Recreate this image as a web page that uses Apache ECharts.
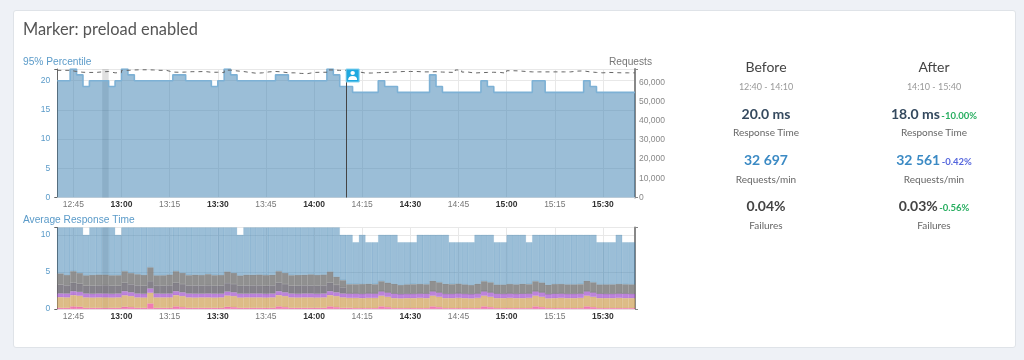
<!DOCTYPE html>
<html>
<head>
<meta charset="utf-8">
<script src="https://cdn.jsdelivr.net/npm/echarts@6/dist/echarts.min.js"></script>
<style>
	html, body { margin: 0; padding: 0; width: 1024px; height: 360px; overflow: hidden; background: #eef1f6; }
	body { position: relative; font-family: Lato, sans-serif; }
	.card { position: absolute; left: 13px; top: 10px; width: 1001px; height: 336px; background: #fff; border: 1px solid #dfe3e8; border-radius: 3px; }
	#chart { position: absolute; left: 0; top: 0; width: 1024px; height: 360px; }
	.head { position: absolute; left: 23px; top: 17px; font-size: 16.4px; line-height: 24px; color: #555; }
	.t { position: absolute; width: 168px; margin-left: -84px; text-align: center; white-space: nowrap; transform: translateY(-50%); }
	.big { font-size: 14px; color: #444; }
	.time { font-size: 9px; color: #999; }
	.val { font-size: 14px; font-weight: 700; color: #34495e; }
	.lab { font-size: 10px; color: #666; }
	.delta { font-size: 9.5px; font-weight: 700; }
</style>
</head>
<body>
<div class="card"></div>
<div id="chart"></div>
<div class="head">Marker: preload enabled</div>

<div class="t big" style="left:766px;top:66px">Before</div>
<div class="t time" style="left:766px;top:86px">12:40 - 14:10</div>
<div class="t val" style="left:766px;top:113px">20.0 ms</div>
<div class="t lab" style="left:766px;top:132px">Response Time</div>
<div class="t val" style="left:766px;top:159px;color:#3b8ac4">32 697</div>
<div class="t lab" style="left:766px;top:179px">Requests/min</div>
<div class="t val" style="left:766px;top:205px;color:#444">0.04%</div>
<div class="t lab" style="left:766px;top:225px">Failures</div>

<div class="t big" style="left:934px;top:66px">After</div>
<div class="t time" style="left:934px;top:86px">14:10 - 15:40</div>
<div class="t val" style="left:934px;top:113px">18.0 ms <span class="delta" style="color:#27ae60;margin-left:-2px">-10.00%</span></div>
<div class="t lab" style="left:934px;top:132px">Response Time</div>
<div class="t val" style="left:934px;top:159px;color:#3b8ac4">32 561 <span class="delta" style="color:#5566dd;margin-left:-2px">-0.42%</span></div>
<div class="t lab" style="left:934px;top:179px">Requests/min</div>
<div class="t val" style="left:934px;top:205px;color:#444">0.03% <span class="delta" style="color:#27ae60;margin-left:-2px">-0.56%</span></div>
<div class="t lab" style="left:934px;top:225px">Failures</div>

<script>
	// x axis is minutes after 12:00, one bin = 2 minutes
	const xStart = 40
	const xEnd = 220
	const binSize = 2
	const tickMinutes = [45, 60, 75, 90, 105, 120, 135, 150, 165, 180, 195, 210]
	const tickLabels = ['12:45', '13:00', '13:15', '13:30', '13:45', '14:00', '14:15', '14:30', '14:45', '15:00', '15:15', '15:30']
	const boldLabels = ['13:00', '13:30', '14:00', '14:30', '15:00', '15:30']
	const markerMinute = 130
	const bandMinutes = [54, 56]
	const percentileTicks = [0, 5, 10, 15, 20]
	const requestTicks = [0, 10000, 20000, 30000, 40000, 50000, 60000]
	const responseTicks = [0, 5, 10]

	// 95% percentile
	const percentile = [
		20, 20, 22, 21, 19, 20, 20, 20, 19, 20,
		22, 21, 20, 20, 20, 20, 20, 20, 21, 21,
		20, 20, 20, 20, 19, 20, 22, 21, 20, 20,
		20, 20, 20, 20, 21, 21, 20, 20, 20, 20,
		20, 20, 22, 21, 19, 19, 18, 18, 18, 18,
		20, 19, 19, 18, 18, 18, 18, 18, 21, 19,
		18, 18, 18, 18, 18, 18, 20, 19, 18, 18,
		18, 18, 18, 18, 20, 20, 18, 18, 18, 18,
		18, 18, 20, 19, 18, 18, 18, 18, 18, 18
	]
	const requests = [
		66300, 66300, 65700, 65300, 65200, 65200, 65500, 65700, 65000, 65100,
		66300, 66500, 66600, 66600, 66500, 66300, 66300, 65400, 65300, 65400,
		65600, 65600, 65700, 65300, 65300, 65100, 66400, 66000, 65700, 65200,
		64800, 65000, 65500, 65700, 65500, 65000, 65000, 64700, 64600, 65200,
		65300, 65300, 66500, 66300, 66300, 66000, 65500, 64900, 64900, 65100,
		65200, 65300, 65500, 65700, 65700, 65700, 65500, 65500, 65600, 65400,
		65300, 65200, 66500, 65400, 64900, 65100, 65200, 65300, 65200, 64800,
		66100, 66000, 65700, 65500, 65500, 65500, 65500, 65500, 65500, 65500,
		65900, 66000, 65500, 65200, 65000, 65200, 65100, 65000, 65000, 65000
	]

	// average response time, layers from the bottom up
	const pink = [
		.15, .15, .35, .3, .15, .15, .15, .15, .15, .15,
		.3, .25, .15, .15, .75, .15, .15, .15, .35, .25,
		.15, .15, .15, .15, .15, .15, .3, .25, .15, .15,
		.15, .15, .15, .15, .35, .25, .15, .15, .15, .15,
		.15, .15, .35, .25, .15, .15, .12, .12, .12, .12,
		.35, .25, .12, .12, .12, .12, .12, .12, .35, .25,
		.12, .12, .12, .12, .12, .12, .35, .25, .12, .12,
		.12, .12, .12, .12, .35, .25, .12, .12, .12, .12,
		.12, .12, .35, .25, .12, .12, .12, .12, .12, .12
	]
	const tan = [
		1.45, 1.42, 1.52, 1.5, 1.42, 1.4, 1.42, 1.42, 1.4, 1.42,
		1.55, 1.5, 1.42, 1.4, 1.45, 1.42, 1.42, 1.42, 1.52, 1.5,
		1.42, 1.4, 1.42, 1.42, 1.4, 1.42, 1.52, 1.5, 1.4, 1.42,
		1.42, 1.42, 1.4, 1.42, 1.52, 1.5, 1.42, 1.4, 1.42, 1.42,
		1.4, 1.42, 1.52, 1.5, 1.42, 1.35, 1.38, 1.35, 1.38, 1.38,
		1.45, 1.4, 1.35, 1.32, 1.35, 1.35, 1.38, 1.35, 1.45, 1.4,
		1.35, 1.35, 1.38, 1.35, 1.32, 1.38, 1.45, 1.4, 1.35, 1.35,
		1.38, 1.35, 1.35, 1.38, 1.45, 1.4, 1.32, 1.35, 1.38, 1.35,
		1.35, 1.38, 1.45, 1.4, 1.35, 1.35, 1.35, 1.38, 1.35, 1.35
	]
	const purple = [
		.5, .52, .53, .5, .52, .5, .52, .52, .5, .52,
		.55, .5, .52, .5, .57, .52, .5, .52, .53, .5,
		.52, .52, .5, .52, .52, .5, .53, .5, .52, .5,
		.52, .52, .5, .52, .53, .5, .52, .5, .52, .52,
		.5, .52, .53, .5, .52, .6, .6, .6, .62, .6,
		.6, .6, .62, .6, .6, .6, .6, .62, .6, .6,
		.6, .6, .62, .6, .6, .6, .6, .6, .62, .6,
		.6, .6, .62, .6, .6, .6, .6, .62, .6, .6,
		.6, .6, .6, .6, .62, .6, .6, .6, .62, .6
	]
	const darkGray = [
		1.2, 1.1, 1.15, 1.1, 1.05, 1.1, 1.1, 1.12, 1.1, 1.05,
		1.15, 1.1, 1.1, 1.1, 1.0, 1.1, 1.08, 1.1, 1.15, 1.12,
		1.08, 1.1, 1.1, 1.12, 1.05, 1.1, 1.15, 1.12, 1.05, 1.1,
		1.1, 1.1, 1.08, 1.1, 1.15, 1.12, 1.05, 1.1, 1.1, 1.08,
		1.1, 1.1, 1.15, 1.0, 0.85, 0, 0, 0, 0, 0,
		0, 0, 0, 0, 0, 0, 0, 0, 0, 0,
		0, 0, 0, 0, 0, 0, 0, 0, 0, 0,
		0, 0, 0, 0, 0, 0, 0, 0, 0, 0,
		0, 0, 0, 0, 0, 0, 0, 0, 0, 0
	]
	const gray = [
		1.5, 1.4, 1.55, 1.45, 1.4, 1.45, 1.45, 1.42, 1.4, 1.42,
		1.55, 1.5, 1.5, 1.45, 1.85, 1.35, 1.4, 1.45, 1.55, 1.5,
		1.4, 1.45, 1.42, 1.5, 1.45, 1.42, 1.55, 1.5, 1.4, 1.45,
		1.42, 1.45, 1.45, 1.42, 1.55, 1.5, 1.42, 1.45, 1.42, 1.5,
		1.45, 1.45, 1.5, 1.1, .95, 1.25, 1.25, 1.3, 1.28, 1.25,
		1.35, 1.3, 1.3, 1.2, 1.25, 1.28, 1.28, 1.25, 1.4, 1.35,
		1.32, 1.28, 1.3, 1.25, 1.2, 1.3, 1.35, 1.35, 1.2, 1.22,
		1.28, 1.25, 1.3, 1.25, 1.35, 1.32, 1.22, 1.28, 1.28, 1.25,
		1.25, 1.25, 1.4, 1.35, 1.22, 1.25, 1.25, 1.28, 1.25, 1.25
	]
	const responseTop = [
		11, 11, 11, 11, 10, 11, 11, 11, 11, 10,
		11, 11, 11, 11, 11, 11, 11, 11, 11, 11,
		11, 11, 11, 11, 11, 11, 11, 11, 10, 11,
		11, 11, 11, 11, 11, 11, 11, 11, 11, 11,
		11, 11, 11, 11, 10, 10, 9, 10, 9, 9,
		10, 10, 10, 9, 9, 9, 10, 10, 10, 10,
		10, 9, 9, 9, 9, 10, 10, 10, 9, 9,
		10, 10, 10, 9, 10, 10, 10, 10, 10, 10,
		10, 10, 10, 10, 9, 9, 9, 10, 9, 9
	]

	const layers = [pink, tan, purple, darkGray, gray]
	const blue = responseTop.map((top, i) => top - layers.reduce((sum, l) => sum + l[i], 0))

	// bin starts for the step lines, the last value is held to the right edge
	const stepData = arr => arr.map((v, i) => [xStart + i * binSize, v]).concat([[xEnd, arr[arr.length - 1]]])
	// hidden category axis under the lower chart, stack does not work on a value x axis
	const binNames = responseTop.map((v, i) => String(xStart + i * binSize))

	const fontFamily = '"Liberation Sans", sans-serif'
	const blueText = '#5b9bc9'
	const areaColor = 'rgba(55,125,175,0.5)'

	function xAxis(gridIndex) {
		return {
			type: 'value',
			gridIndex,
			min: xStart,
			max: xEnd,
			axisLine: { lineStyle: { color: '#e6e6e6' } },
			axisTick: { show: false, customValues: tickMinutes },
			splitLine: { show: true, lineStyle: { color: '#e8e8e8' } },
			axisLabel: {
				customValues: tickMinutes,
				hideOverlap: false,
				fontFamily,
				fontSize: 8.5,
				color: '#777',
				margin: 3,
				formatter: v => {
					const label = tickLabels[tickMinutes.indexOf(v)]
					return boldLabels.includes(label) ? '{b|' + label + '}' : label
				},
				rich: { b: { fontFamily, fontSize: 8.5, fontWeight: 'bold', color: '#333' } }
			}
		}
	}

	// only the end ticks of the axis line, like a bracket
	function bracketAxis(gridIndex, position, max, color, width) {
		return {
			type: 'value',
			gridIndex,
			position,
			min: 0,
			max,
			axisLine: { show: true, lineStyle: { color, width } },
			axisTick: { show: true, customValues: [0, max], length: 3, lineStyle: { color, width: 1 } },
			axisLabel: { show: false },
			splitLine: { show: false }
		}
	}

	const band = {
		silent: true,
		itemStyle: { color: 'rgba(100,100,100,0.2)' },
		data: [[{ xAxis: bandMinutes[0] }, { xAxis: bandMinutes[1] }]]
	}

	const responseColors = [
		'rgba(236,90,160,0.8)',
		'rgba(210,165,95,0.75)',
		'rgba(165,90,205,0.75)',
		'rgba(112,108,118,0.85)',
		'rgba(125,125,125,0.85)',
		areaColor
	]

	const responseSeries = layers.concat([blue]).map((l, i) => ({
		type: 'bar',
		xAxisIndex: 2,
		yAxisIndex: 3,
		stack: 'response',
		barCategoryGap: 0,
		data: l,
		// thin border closes most of the seam between bins
		itemStyle: { color: responseColors[i], borderColor: responseColors[i], borderWidth: 0.3 }
	}))
	// empty, only carries the grey band of the lower chart on the minute axis
	responseSeries.push({
		type: 'line',
		xAxisIndex: 1,
		yAxisIndex: 3,
		data: [],
		markArea: band
	})

	const options = {
		animation: false,
		title: [
			{ text: '95% Percentile', left: 18, top: 52, textStyle: { fontFamily, fontSize: 10.2, fontWeight: 'normal', color: blueText } },
			{ text: 'Requests', right: 367, top: 52, textStyle: { fontFamily, fontSize: 10.2, fontWeight: 'normal', color: '#777' } },
			{ text: 'Average Response Time', left: 18, top: 210, textStyle: { fontFamily, fontSize: 10.2, fontWeight: 'normal', color: blueText } }
		],
		grid: [
			{ left: 57.3, right: 389, top: 69, height: 128.5 },
			{ left: 57.3, right: 389, top: 227.5, height: 81.5 }
		],
		xAxis: [
			xAxis(0),
			xAxis(1),
			{ type: 'category', gridIndex: 1, data: binNames, show: false }
		],
		yAxis: [
			{
				type: 'value',
				gridIndex: 0,
				min: 0,
				max: 22,
				interval: 5,
				axisLine: { show: false },
				axisTick: { show: false },
				axisLabel: { customValues: percentileTicks, fontFamily, fontSize: 8.5, color: blueText, margin: 7 },
				splitLine: { lineStyle: { color: '#e8e8e8' } }
			},
			{
				type: 'value',
				gridIndex: 0,
				position: 'right',
				min: 0,
				max: 67000,
				interval: 10000,
				axisLine: { show: false },
				axisTick: { show: false },
				axisLabel: { customValues: requestTicks, fontFamily, fontSize: 8.5, color: '#888', margin: 4, formatter: v => v.toLocaleString('en-US') },
				splitLine: { show: false }
			},
			{
				type: 'value',
				gridIndex: 1,
				min: 0,
				max: 11,
				interval: 5,
				axisLine: { show: false },
				axisTick: { show: false },
				axisLabel: { customValues: responseTicks, fontFamily, fontSize: 8.5, color: blueText, margin: 7 },
				splitLine: { lineStyle: { color: '#e8e8e8' } }
			},
			bracketAxis(1, 'right', 11, '#888', 2),
			bracketAxis(0, 'left', 22, '#666', 1),
			bracketAxis(0, 'right', 67000, '#888', 2),
			bracketAxis(1, 'left', 11, '#666', 1)
		],
		series: [
			{
				type: 'line',
				xAxisIndex: 0,
				yAxisIndex: 0,
				step: 'end',
				showSymbol: false,
				data: stepData(percentile),
				lineStyle: { color: '#7db1d5', width: 1.6 },
				areaStyle: { color: areaColor, opacity: 1 },
				markArea: band,
				markLine: {
					silent: true,
					symbol: 'none',
					label: { show: false },
					lineStyle: { color: '#444', width: 1, type: 'solid' },
					data: [{ xAxis: markerMinute }]
				},
				markPoint: {
					silent: true,
					label: { show: false },
					data: [
						{ coord: [markerMinute, 22], symbol: 'rect', symbolSize: 13, symbolOffset: [6.5, 6.5], itemStyle: { color: '#1fa9e0', borderColor: '#8ad4f0', borderWidth: 1 } },
						{ coord: [markerMinute, 22], symbol: 'path://M12 2a4.5 4.5 0 1 1 0 9 4.5 4.5 0 0 1 0-9zM3 22c0-6 3-9 9-9s9 3 9 9z', symbolSize: 9, symbolOffset: [6.5, 6.5], itemStyle: { color: '#fff' } }
					]
				}
			},
			{
				type: 'line',
				xAxisIndex: 0,
				yAxisIndex: 1,
				step: 'end',
				showSymbol: false,
				data: stepData(requests),
				lineStyle: { color: '#666', width: 1, type: [4, 4] }
			}
		].concat(responseSeries)
	}

	const mycharts = echarts.init(document.getElementById('chart'))
	mycharts.setOption(options)
</script>
</body>
</html>
